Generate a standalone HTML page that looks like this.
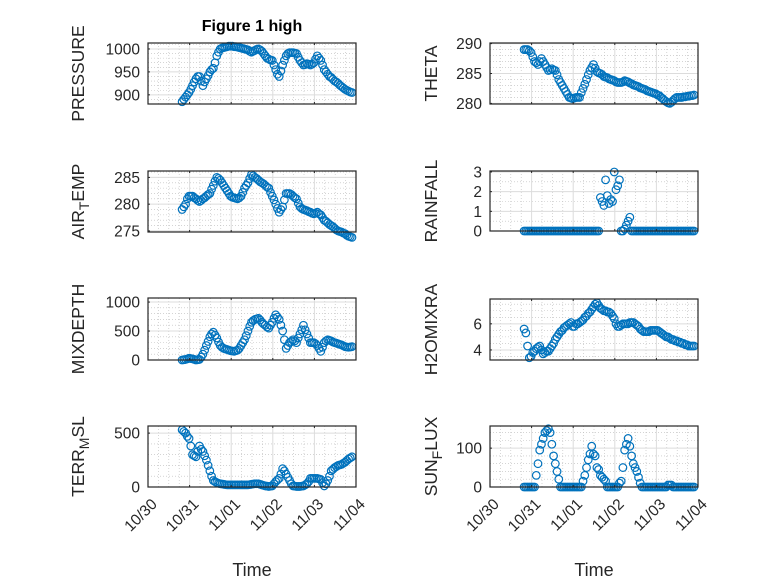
<!DOCTYPE html>
<html><head><meta charset="utf-8"><style>
html,body{margin:0;padding:0;background:#fff;}
svg{display:block;font-family:"Liberation Sans",sans-serif;}
</style></head><body>
<svg id="fig" width="778" height="583" viewBox="0 0 778 583">
<rect width="778" height="583" fill="#fff"/>
<text x="252" y="31" text-anchor="middle" font-size="16" font-weight="bold" fill="#000">Figure 1 high</text>
</svg>
<script>
const tStart = 0.82, tStep = 1/24;
const dayTicks = ["10/30","10/31","11/01","11/02","11/03","11/04"];
const pressure = [885,890,895,900,905,912,920,928,935,940,940,930,920,928,935,942,950,955,958,970,985,993,1000,1002,1003,1004,1005,1006,1006,1006,1005,1005,1004,1003,1002,1001,1000,999,998,995,993,995,997,999,1000,998,995,990,985,980,978,976,975,965,955,945,940,952,965,975,985,990,992,992,992,991,990,982,975,970,965,966,968,967,965,967,970,978,985,980,975,965,955,950,945,940,938,934,930,928,925,921,918,915,912,910,908,906,905];
const airTemp = [279,279.5,280,281,281.5,281.5,281.5,281.2,281,280.7,280.5,280.7,281,281.2,281.5,281.8,282,282.8,283.5,284.3,285,284.8,284.5,284,283.5,283,282.5,282,281.5,281.3,281.2,281.1,281,281.2,281.5,282.2,283,283.5,284,284.8,285.5,285.3,285,284.8,284.5,284.2,284,283.8,283.5,283.2,283,282.2,281.5,280.8,280,279.2,278.5,279,279.5,280.8,282,282,282,281.8,281.5,281.2,281,280.2,279.5,279.2,279,278.9,278.8,278.6,278.5,278.3,278.2,278.3,278.5,278.2,278,277.5,277,276.8,276.5,276.2,276,275.8,275.5,275.2,275,274.9,274.8,274.6,274.5,274.2,274,273.9,273.8];
const mixDepth = [0,5,10,20,30,25,20,10,0,5,10,50,100,170,250,320,400,450,480,430,380,310,250,220,200,190,180,170,160,155,150,160,170,200,250,300,350,420,500,580,650,680,700,710,720,690,650,620,600,570,550,600,650,720,780,740,700,600,500,350,200,250,300,320,350,330,300,380,450,520,600,520,450,380,300,300,300,280,250,200,150,220,300,330,350,340,330,310,300,290,280,270,260,245,230,225,220,225,230];
const terrMsl = [530,515,500,470,450,380,300,290,280,330,380,350,330,290,250,200,150,100,60,50,40,35,30,28,25,22,20,20,20,20,20,20,20,20,20,20,20,20,20,22,25,28,30,30,30,25,20,15,10,8,5,8,10,30,50,65,80,120,170,150,120,90,60,30,10,8,5,5,5,8,10,20,30,50,80,80,80,80,80,75,70,40,10,30,60,100,150,165,180,190,200,205,210,220,230,245,260,270,280];
const theta = [289,289,289,288.8,288.5,287.8,287,286.8,286.5,287,287.5,287,286.5,286,285.5,285.6,285.8,285.6,285.5,284.8,284,283.5,283,282.5,282,281.5,281,280.9,280.8,280.9,281,281,281,281.8,282.5,283.2,284,284.8,285.5,286,286.5,285.9,285.3,285.1,285,284.8,284.5,284.4,284.3,284.1,284,283.9,283.8,283.6,283.5,283.5,283.5,283.6,283.8,283.7,283.6,283.4,283.3,283.1,283,282.9,282.8,282.6,282.5,282.4,282.3,282.1,282,281.9,281.8,281.7,281.6,281.4,281.3,281,280.8,280.5,280.3,280.1,280,280.2,280.5,280.8,281,281,281,281,281.1,281.1,281.2,281.2,281.3,281.3,281.4];
const rainfall = [0,0,0,0,0,0,0,0,0,0,0,0,0,0,0,0,0,0,0,0,0,0,0,0,0,0,0,0,0,0,0,0,0,0,0,0,0,0,0,0,0,0,0,0,1.7,1.5,1.3,2.6,1.8,1.4,1.6,1.5,3.0,2.1,2.3,2.6,0,0,0.1,0.3,0.5,0.7,0,0,0,0,0,0,0,0,0,0,0,0,0,0,0,0,0,0,0,0,0,0,0,0,0,0,0,0,0,0,0,0,0,0,0,0,0];
const h2o = [5.6,5.3,4.3,3.4,3.5,3.8,3.9,4.1,4.2,4.3,4.0,3.7,3.8,3.9,3.9,4.1,4.3,4.5,4.8,5.0,5.2,5.4,5.5,5.7,5.8,5.9,6.0,6.1,5.8,5.8,6.0,6.0,6.1,6.2,6.3,6.5,6.6,6.8,6.9,7.1,7.3,7.5,7.6,7.4,7.2,7.1,7.0,7.0,6.9,6.9,6.8,6.6,6.4,6.0,5.8,5.8,5.9,6.0,6.0,6.0,6.0,6.1,6.1,6.1,6.0,5.9,5.8,5.6,5.5,5.4,5.4,5.4,5.4,5.5,5.5,5.5,5.5,5.5,5.4,5.3,5.2,5.1,5.0,5.0,4.9,4.8,4.8,4.7,4.7,4.6,4.6,4.5,4.5,4.4,4.4,4.3,4.3,4.3,4.3];
const sunFlux = [0,0,0,0,0,0,0,30,60,95,110,125,140,145,150,140,110,80,60,40,20,0,0,0,0,0,0,0,0,0,0,0,0,0,15,30,50,70,85,105,85,80,50,45,30,25,20,15,0,0,0,0,0,0,0,10,15,50,95,110,125,105,80,60,50,40,25,10,0,0,0,0,0,0,0,0,0,0,0,0,0,0,0,5,5,5,0,0,0,0,0,0,0,0,0,0,0,0,0];

const NS="http://www.w3.org/2000/svg";
const svg=document.getElementById('fig');
function mk(tag,attrs,parent){const e=document.createElementNS(NS,tag);for(const k in attrs)e.setAttribute(k,attrs[k]);(parent||svg).appendChild(e);return e;}

const panels=[
 {name:'pressure',data:pressure,x0:148,top:43,bot:104,ymin:880,ymax:1013,ticks:[900,950,1000],minor:10,label:['PRESSURE'],lx:84},
 {name:'air-temp',data:airTemp,x0:148,top:171,bot:232,ymin:274.8,ymax:286.2,ticks:[275,280,285],minor:1,label:['AIR','T','EMP'],lx:84},
 {name:'mixdepth',data:mixDepth,x0:148,top:298,bot:360,ymin:0,ymax:1070,ticks:[0,500,1000],minor:100,label:['MIXDEPTH'],lx:84},
 {name:'terr-msl',data:terrMsl,x0:148,top:426,bot:487,ymin:0,ymax:566,ticks:[0,500],minor:100,label:['TERR','M','SL'],lx:84,xticks:true},
 {name:'theta',data:theta,x0:490,top:43,bot:104,ymin:279.9,ymax:290.1,ticks:[280,285,290],minor:1,label:['THETA'],lx:437},
 {name:'rainfall',data:rainfall,x0:490,top:171,bot:231,ymin:0,ymax:3.05,ticks:[0,1,2,3],minor:0.5,label:['RAINFALL'],lx:437},
 {name:'h2omixra',data:h2o,x0:490,top:299,bot:360,ymin:3.23,ymax:7.9,ticks:[4,6],minor:0.5,label:['H2OMIXRA'],lx:437},
 {name:'sunflux',data:sunFlux,x0:490,top:426,bot:487,ymin:0,ymax:157,ticks:[0,100],minor:20,label:['SUN','F','LUX'],lx:437,xticks:true}
];
const W=208,dayPx=W/5;
panels.forEach(p=>{
 const g=mk('g',{});
 
 
 const xs=t=>p.x0+t*dayPx;
 const ys=v=>p.bot-(v-p.ymin)/(p.ymax-p.ymin)*(p.bot-p.top);
 for(let d=0;d<5;d++)for(let q=1;q<4;q++){const x=xs(d+q/4);mk('line',{x1:x,x2:x,y1:p.top,y2:p.bot,stroke:'#bbb','stroke-width':0.6,'stroke-dasharray':'1,2'},g);}
 for(let v=Math.ceil(p.ymin/p.minor)*p.minor;v<=p.ymax;v+=p.minor){if(p.ticks.some(t=>Math.abs(t-v)<1e-6))continue;const y=ys(v);mk('line',{x1:p.x0,x2:p.x0+W,y1:y,y2:y,stroke:'#bbb','stroke-width':0.6,'stroke-dasharray':'1,2'},g);}
 dayTicks.forEach((lab,i)=>{const x=xs(i);mk('line',{x1:x,x2:x,y1:p.top,y2:p.bot,stroke:'#dcdcdc','stroke-width':1},g);});
 p.ticks.forEach(v=>{const y=ys(v);mk('line',{x1:p.x0,x2:p.x0+W,y1:y,y2:y,stroke:'#dcdcdc','stroke-width':1},g);
  const t=mk('text',{x:p.x0-8,y:y+5.5,'text-anchor':'end','font-size':15.5,fill:'#262626'},g);t.textContent=v;
  
  
  mk('line',{x1:p.x0,x2:p.x0+2,y1:y,y2:y,stroke:'#262626'},g);});
 p.data.forEach((v,i)=>{
  const c=mk('circle',{cx:xs(tStart+i*tStep),cy:ys(v),r:3.8,fill:'none',stroke:'#0072BD','stroke-width':1.2},g);
  
  
 });
 mk('rect',{x:p.x0,y:p.top,width:W,height:p.bot-p.top,fill:'none',stroke:'#262626','stroke-width':1.2},g);
 dayTicks.forEach((lab,i)=>{const x=xs(i);mk('line',{x1:x,x2:x,y1:p.bot,y2:p.bot-2,stroke:'#262626'},g);mk('line',{x1:x,x2:x,y1:p.top,y2:p.top+2,stroke:'#262626'},g);
  if(p.xticks){const ax=x+10,ay=p.bot+18;const t=mk('text',{x:ax,y:ay,'text-anchor':'end','font-size':15.5,fill:'#262626',transform:`rotate(-45 ${ax} ${ay})`},g);t.textContent=lab;
   
   }
 });
 const cy=(p.top+p.bot)/2;
 const yl=mk('text',{x:p.lx,y:cy,'text-anchor':'middle','font-size':17.5,fill:'#262626',transform:`rotate(-90 ${p.lx} ${cy})`},g);
 
 
 if(p.label.length===1){yl.textContent=p.label[0];}
 else{const a=mk('tspan',{},yl);a.textContent=p.label[0];const b=mk('tspan',{dy:5,'font-size':14},yl);b.textContent=p.label[1];const c=mk('tspan',{dy:-5},yl);c.textContent=p.label[2];}
 if(p.xticks){const t=mk('text',{x:p.x0+W/2,y:576,'text-anchor':'middle','font-size':18,fill:'#262626'},g);t.textContent='Time';
  
  }
});
</script>
</body></html>
